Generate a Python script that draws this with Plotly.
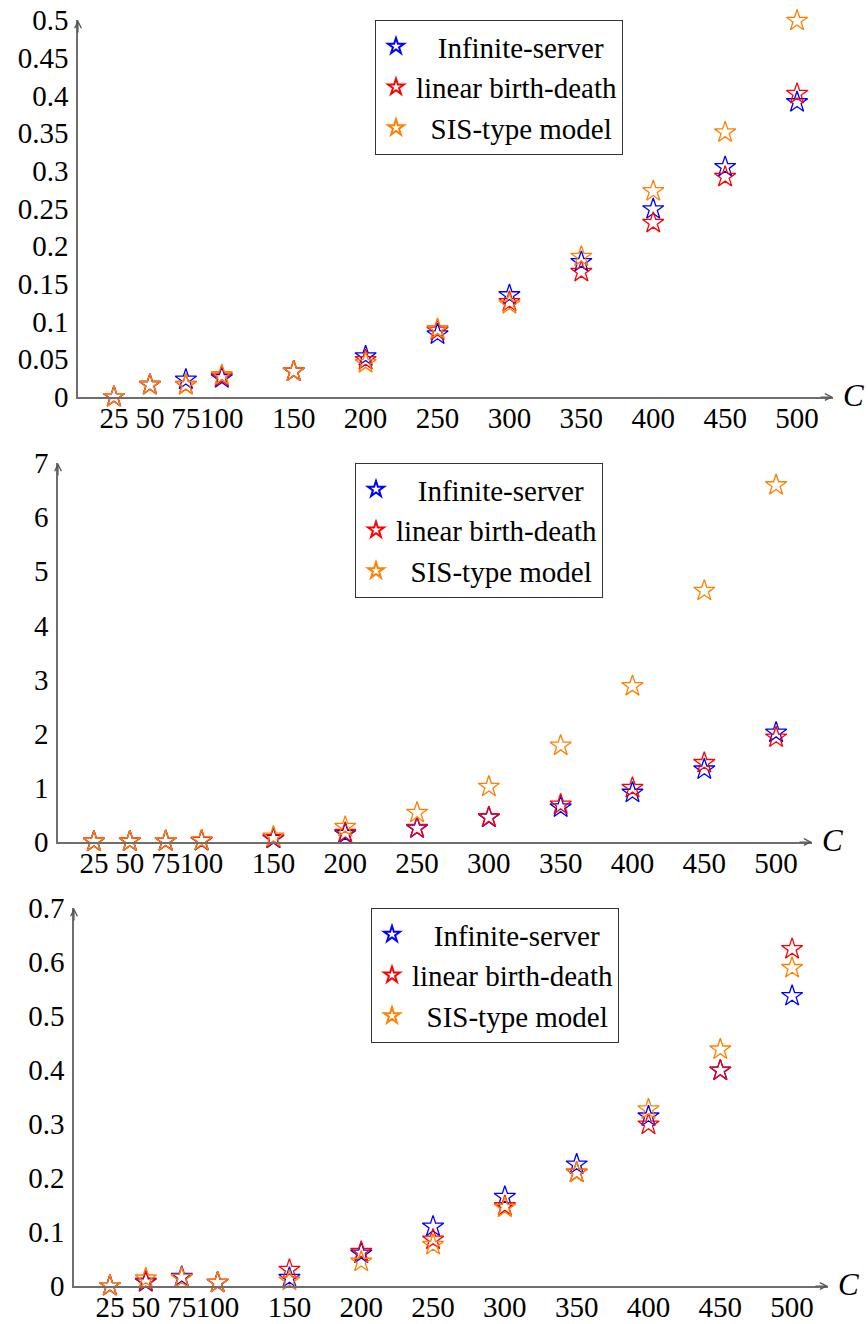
import plotly.graph_objects as go

C = [25, 50, 75, 100, 150, 200, 250, 300, 350, 400, 450, 500]
x_ticks = [25, 50, 75, 100, 150, 200, 250, 300, 350, 400, 450, 500]

series_names = ["Infinite-server", "linear birth-death", "SIS-type model"]
series_colors = ["#0000ff", "#ff0000", "#ff8000"]

# Panel 1
inf1 = [0.0, 0.016, 0.023, 0.025, 0.034, 0.054, 0.083, 0.135, 0.179, 0.249, 0.305, 0.391]
lin1 = [0.0, 0.016, 0.016, 0.027, 0.034, 0.049, 0.088, 0.126, 0.166, 0.231, 0.292, 0.402]
sis1 = [0.0, 0.016, 0.016, 0.029, 0.034, 0.045, 0.090, 0.123, 0.186, 0.273, 0.351, 0.499]
# Panel 2
inf2 = [0.005, 0.01, 0.015, 0.02, 0.06, 0.15, 0.25, 0.45, 0.64, 0.91, 1.34, 2.02]
lin2 = [0.005, 0.01, 0.015, 0.02, 0.07, 0.17, 0.26, 0.46, 0.69, 1.00, 1.46, 1.93]
sis2 = [0.005, 0.01, 0.015, 0.03, 0.10, 0.28, 0.54, 1.02, 1.78, 2.88, 4.64, 6.59]
# Panel 3
inf3 = [0.0, 0.007, 0.017, 0.006, 0.015, 0.060, 0.110, 0.165, 0.225, 0.314, 0.399, 0.537]
lin3 = [0.0, 0.008, 0.015, 0.006, 0.030, 0.063, 0.086, 0.148, 0.210, 0.299, 0.399, 0.624]
sis3 = [0.0, 0.014, 0.015, 0.006, 0.010, 0.045, 0.076, 0.145, 0.210, 0.327, 0.438, 0.589]

panels = [
    dict(data=[inf1, lin1, sis1], ymax=0.5, dtick=0.05,
         xdom=[78 / 868, 833 / 868], ydom=[1 - 397 / 1324, 1 - 20 / 1324],
         leg=(375 / 868, 1 - 20 / 1324)),
    dict(data=[inf2, lin2, sis2], ymax=7, dtick=1,
         xdom=[58 / 868, 812 / 868], ydom=[1 - 842 / 1324, 1 - 463 / 1324],
         leg=(355 / 868, 1 - 463 / 1324)),
    dict(data=[inf3, lin3, sis3], ymax=0.7, dtick=0.1,
         xdom=[74 / 868, 828 / 868], ydom=[1 - 1286 / 1324, 1 - 908 / 1324],
         leg=(371 / 868, 1 - 908 / 1324)),
]

FONT = "Liberation Serif"
FS = 29
LFS = 29
AXC = "#6e6e6e"
pad = {"Infinite-server": "\u00a0" * 3, "linear birth-death": "", "SIS-type model": "\u00a0" * 2}

fig = go.Figure()
layout = dict(
    width=868, height=1324,
    margin=dict(l=0, r=0, t=0, b=0, autoexpand=False),
    paper_bgcolor="white", plot_bgcolor="white",
    font=dict(family=FONT, size=FS, color="black"),
    showlegend=True,
)
annotations = []

for i, p in enumerate(panels):
    k = "" if i == 0 else str(i + 1)
    legname = "legend" + k
    for vals, name, col in zip(p["data"], series_names, series_colors):
        fig.add_trace(go.Scatter(
            x=C, y=vals, mode="markers", name=pad[name] + name,
            marker=dict(symbol="star-open", size=16, color=col,
                        line=dict(color=col, width=1.3)),
            cliponaxis=False,
            xaxis="x" + k, yaxis="y" + k, legend=legname,
        ))
    xmax = 525
    layout["xaxis" + k] = dict(
        domain=p["xdom"], range=[0, xmax], anchor="y" + k,
        tickvals=x_ticks, ticktext=[str(v) for v in x_ticks], tickangle=0,
        showgrid=False, zeroline=False, showline=True, linecolor=AXC, linewidth=1.5,
        ticks="", automargin=False, ticklabelstandoff=-6,
        tickfont=dict(family=FONT, size=FS, color="black"),
    )
    layout["yaxis" + k] = dict(
        domain=p["ydom"], range=[0, p["ymax"]], anchor="x" + k,
        dtick=p["dtick"], tick0=0,
        showgrid=False, zeroline=False, showline=True, linecolor=AXC, linewidth=1.5,
        ticks="", automargin=False, ticklabelstandoff=2,
        tickfont=dict(family=FONT, size=FS, color="black"),
    )
    layout[legname] = dict(
        x=p["leg"][0], y=p["leg"][1], xanchor="left", yanchor="top",
        xref="paper", yref="paper",
        bordercolor="#333333", borderwidth=1, bgcolor="white",
        font=dict(family=FONT, size=LFS, color="black"),
        tracegroupgap=0, itemsizing="constant",
    )
    # axis arrowheads
    annotations.append(dict(
        x=xmax, y=0, xref="x" + k, yref="y" + k, ax=-14, ay=0,
        showarrow=True, arrowhead=5, arrowsize=1.1, arrowwidth=1.2,
        arrowcolor="#555555", text="",
    ))
    annotations.append(dict(
        x=0, y=p["ymax"], xref="x" + k, yref="y" + k, ax=0, ay=14,
        showarrow=True, arrowhead=5, arrowsize=1.1, arrowwidth=1.2,
        arrowcolor="#555555", text="",
    ))
    annotations.append(dict(
        x=1, y=0, xref="x" + k + " domain", yref="y" + k,
        xanchor="left", yanchor="middle", xshift=8, yshift=2,
        showarrow=False, text="<i>C</i>",
        font=dict(family=FONT, size=FS + 2, color="black"),
    ))

layout["annotations"] = annotations
fig.update_layout(**layout)
fig.write_html("out.html")
